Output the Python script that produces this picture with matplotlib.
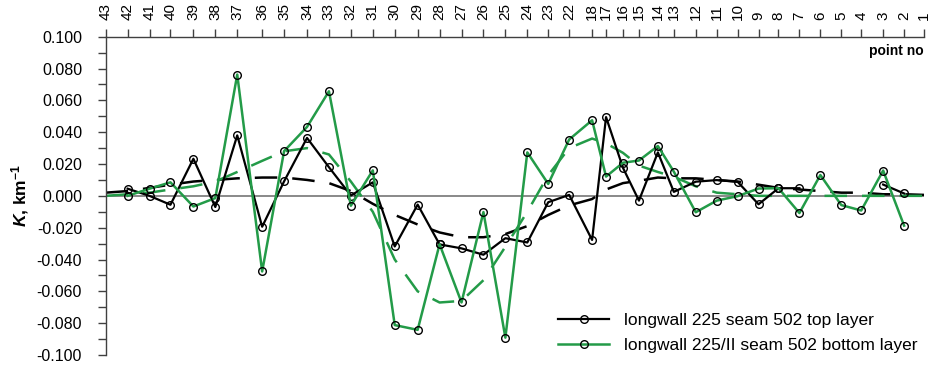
import numpy as np
import matplotlib.pyplot as plt

plt.rcParams['font.family'] = ['Liberation Sans', 'DejaVu Sans']
plt.rcParams['axes.unicode_minus'] = False
plt.rcParams['mathtext.fontset'] = 'custom'
plt.rcParams['mathtext.it'] = 'Liberation Sans:italic:bold'
plt.rcParams['mathtext.rm'] = 'Liberation Sans:bold'

# point numbers along the profile and their distance from point 43
points = [43, 42, 41, 40, 39, 38, 37, 36, 35, 34, 33, 32, 31, 30, 29, 28, 27, 26, 25,
          24, 23, 22, 18, 17, 16, 15, 14, 13, 12, 11, 10, 9, 8, 7, 6, 5, 4, 3, 2, 1]
dist = [0, 22, 44, 65, 88, 110, 132, 157, 179, 202, 224, 246, 268, 290, 313, 335, 357,
        379, 401, 423, 444, 465, 488, 502, 519, 535, 554, 570, 592, 613, 634, 655, 675,
        696, 717, 738, 758, 780, 801, 821]

nan = np.nan
# measured curvature K [1/km]
top_layer = [nan, 0.0045, 0.000, -0.0056, 0.0233, -0.007, 0.038, -0.0194, 0.0091, 0.0364,
             0.018, 0.0002, 0.0085, -0.0318, -0.0055, -0.0305, -0.033, -0.037, -0.0266,
             -0.0293, -0.004, 0.0006, -0.0277, 0.0495, 0.0176, -0.003, 0.0273, 0.0025,
             0.0089, 0.0099, 0.0088, -0.0053, 0.0048, 0.0048, nan, nan, nan, 0.0071,
             0.0015, nan]
bottom_layer = [nan, 0.000, 0.0045, 0.0085, -0.0067, -0.0014, 0.0762, -0.0475, 0.0281,
                0.0433, 0.0657, -0.0062, 0.016, -0.0812, -0.0842, -0.0304, -0.067, -0.0102,
                -0.0891, 0.0273, 0.0075, 0.0354, 0.0475, 0.0121, 0.0208, 0.0222, 0.0313,
                0.0152, -0.0103, -0.003, -0.0002, 0.0046, 0.0048, -0.0108, 0.0131, -0.0058,
                -0.0092, 0.0159, -0.0187, nan]
# smoothed trends
top_trend = [0.002, 0.003, 0.005, 0.007, 0.009, 0.010, 0.011, 0.0115, 0.0115, 0.010,
             0.008, 0.003, -0.005, -0.012, -0.018, -0.023, -0.026, -0.026, -0.024, -0.019,
             -0.012, -0.006, -0.002, 0.004, 0.008, 0.0095, 0.0115, 0.011, 0.011, 0.010,
             0.009, 0.007, 0.005, 0.004, 0.003, 0.002, 0.002, 0.001, 0.001, 0.0006]
bottom_trend = [0.000, 0.001, 0.002, 0.004, 0.006, 0.009, 0.015, 0.022, 0.028, 0.030,
                0.026, 0.009, -0.010, -0.040, -0.060, -0.067, -0.066, -0.053, -0.032,
                -0.010, 0.013, 0.030, 0.036, 0.033, 0.027, 0.019, 0.015, 0.012, 0.006,
                0.002, 0.001, 0.000, 0.000, 0.000, 0.000, 0.000, 0.000, 0.000, 0.000, 0.000]

green = '#239b48'

fig = plt.figure(figsize=(9.31, 3.79), dpi=100)
ax = fig.add_axes([0.1135, 0.0633, 0.879, 0.8399])

ax.axhline(0, color='#808080', lw=1.3, zorder=1)

ax.plot(dist, top_trend, color='black', lw=1.8, dashes=(9, 6), zorder=2)
ax.plot(dist, bottom_trend, color=green, lw=1.8, dashes=(9, 6), zorder=2)

ax.plot(dist, top_layer, color='black', lw=1.6, marker='o', ms=5.5, mfc='none',
        mec='black', mew=1.0, label='longwall 225 seam 502 top layer', zorder=3)
ax.plot(dist, bottom_layer, color=green, lw=1.8, marker='o', ms=5.5, mfc='none',
        mec='black', mew=1.0, label='longwall 225/II seam 502 bottom layer', zorder=3)

ax.set_xlim(dist[0], dist[-1])
ax.set_ylim(-0.1, 0.1)

ax.xaxis.tick_top()
ax.set_xticks(dist)
ax.set_xticklabels([str(p) for p in points], rotation=90, fontsize=11)
ax.tick_params(axis='x', direction='out', length=6, width=1, color='#404040', pad=6)

ax.set_yticks(np.arange(-0.1, 0.1001, 0.02))
ax.set_yticks(np.arange(-0.1, 0.1001, 0.01), minor=True)
ax.set_yticklabels(['%.3f' % v for v in np.arange(-0.1, 0.1001, 0.02)], fontsize=11.5)
ax.tick_params(axis='y', which='both', direction='out', length=6, width=1,
               color='#404040', pad=11)

for s in ['right', 'bottom']:
    ax.spines[s].set_visible(False)
for s in ['top', 'left']:
    ax.spines[s].set_color('#404040')
    ax.spines[s].set_linewidth(1)

ax.set_ylabel(r'$K$, km$^{-1}$', fontsize=12.5, fontweight='bold', labelpad=4)

ax.text(1.0, 0.955, 'point no', transform=ax.transAxes, ha='right', va='center',
        fontsize=10, fontweight='bold')

ax.legend(loc='lower right', bbox_to_anchor=(1.0, -0.015), borderaxespad=0,
          frameon=False, fontsize=12.5, handlelength=2.9, handletextpad=0.85,
          labelspacing=0.55)

fig.savefig('out.png', dpi=100)
